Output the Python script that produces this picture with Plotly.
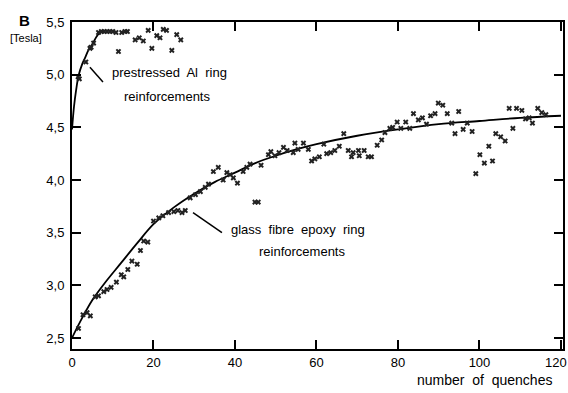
import plotly.graph_objects as go

# Prestressed Al ring reinforcements (measured points)
al_x = [1.5, 1.8, 3.4, 4.4, 4.7, 5.3, 6.5, 7.2, 7.9, 8.6, 9.3, 10.0, 10.8, 11.4, 12.2, 13.0, 13.6,
        15.5, 16.5, 17.5, 18.7, 19.6, 20.8, 21.6, 22.4, 23.2, 24.5, 25.7, 26.7]
al_y = [4.98, 4.96, 5.12, 5.25, 5.26, 5.30, 5.40, 5.41, 5.41, 5.41, 5.41, 5.41, 5.40, 5.22, 5.40, 5.41, 5.41,
        5.33, 5.35, 5.32, 5.42, 5.25, 5.37, 5.35, 5.43, 5.42, 5.23, 5.38, 5.33]

# Al fit curve
al_fit_x = [0.0, 0.5, 1.0, 1.6, 2.5, 3.2, 4.0, 4.9, 5.7, 6.6, 7.8]
al_fit_y = [4.48, 4.70, 4.85, 4.99, 5.10, 5.16, 5.23, 5.28, 5.34, 5.39, 5.41]

# Glass fibre epoxy ring reinforcements (measured points)
gf_x = [1.6, 2.7, 3.7, 4.5, 5.7, 6.5, 7.8, 8.6, 9.6, 10.9, 12.1, 12.7, 13.7, 14.7, 16.0, 16.8, 17.6, 18.6,
        20.0, 21.3, 22.3, 23.7, 25.0, 26.0, 27.0, 27.8, 29.0, 30.3, 31.5, 32.7, 33.5, 34.7, 35.9, 37.1,
        38.0, 38.8, 39.6, 40.6, 42.0, 42.9, 43.7, 44.9, 45.7, 46.4, 48.2, 48.8, 49.8, 50.8, 51.9, 52.8,
        54.3, 54.7, 55.5, 56.8, 58.0, 58.8, 59.6, 60.7, 61.8, 62.5, 63.5, 64.5, 65.6, 66.7, 67.8, 68.6,
        69.0, 70.3, 70.5, 71.7, 72.7, 73.5, 74.9, 76.0, 76.8, 78.0, 78.7, 79.8, 80.7, 81.9, 82.9, 83.8,
        85.0, 86.0, 87.0, 88.0, 89.1, 89.9, 91.0, 92.1, 93.2, 94.0, 94.9, 96.0, 97.0, 98.2, 99.1, 100.1,
        101.2, 102.3, 103.2, 104.0, 105.2, 106.3, 107.3, 108.2, 109.1, 110.4, 111.3, 112.2, 113.0, 114.3,
        115.3, 116.3]
gf_y = [2.59, 2.72, 2.74, 2.71, 2.89, 2.90, 2.94, 2.96, 2.98, 3.03, 3.10, 3.08, 3.15, 3.23, 3.20, 3.33, 3.42, 3.41,
        3.61, 3.64, 3.66, 3.69, 3.70, 3.71, 3.69, 3.71, 3.83, 3.86, 3.89, 3.93, 3.96, 4.08, 4.12, 4.00,
        4.07, 4.05, 4.02, 3.97, 4.08, 4.12, 4.15, 3.79, 3.79, 4.14, 4.24, 4.27, 4.23, 4.26, 4.31, 4.28,
        4.26, 4.35, 4.29, 4.35, 4.29, 4.18, 4.20, 4.22, 4.34, 4.25, 4.26, 4.28, 4.32, 4.44, 4.28, 4.22,
        4.26, 4.28, 4.23, 4.28, 4.22, 4.22, 4.33, 4.38, 4.45, 4.49, 4.50, 4.55, 4.49, 4.55, 4.49, 4.63,
        4.57, 4.59, 4.53, 4.61, 4.63, 4.73, 4.71, 4.63, 4.54, 4.44, 4.65, 4.48, 4.54, 4.46, 4.06, 4.24,
        4.16, 4.32, 4.18, 4.44, 4.41, 4.37, 4.68, 4.49, 4.68, 4.66, 4.58, 4.59, 4.54, 4.68,
        4.64, 4.62]

# Glass fibre fit curve
gf_fit_x = [0, 2.5, 5, 8, 12, 16, 20, 25, 30, 35, 40, 45, 50, 55, 60, 70, 80, 90, 100, 110, 120]
gf_fit_y = [2.50, 2.69, 2.86, 3.02, 3.21, 3.40, 3.58, 3.74, 3.87, 3.98, 4.07, 4.16, 4.23, 4.29, 4.34,
            4.42, 4.48, 4.53, 4.56, 4.59, 4.61]

x_ticks = [0, 20, 40, 60, 80, 100, 120]
x_tick_text = ["0", "20", "40", "60", "80", "100", "120"]
y_ticks = [2.5, 3.0, 3.5, 4.0, 4.5, 5.0, 5.5]
y_tick_text = ["2,5", "3,0", "3,5", "4,0", "4,5", "5,0", "5,5"]

FONT = "Liberation Sans"

fig = go.Figure()
fig.add_trace(go.Scatter(x=al_fit_x, y=al_fit_y, mode="lines", line=dict(color="black", width=1.8, shape="spline"),
                         showlegend=False, hoverinfo="skip"))
fig.add_trace(go.Scatter(x=gf_fit_x, y=gf_fit_y, mode="lines", line=dict(color="black", width=1.8, shape="spline"),
                         showlegend=False, hoverinfo="skip"))
fig.add_trace(go.Scatter(x=al_x, y=al_y, mode="markers",
                         marker=dict(symbol="x", size=5, color="#222"), showlegend=False))
fig.add_trace(go.Scatter(x=gf_x, y=gf_y, mode="markers",
                         marker=dict(symbol="x", size=5, color="#222"), showlegend=False))

# leader lines
fig.add_shape(type="line", x0=4.4, y0=5.07, x1=7.6, y1=4.93, line=dict(color="black", width=1.5))
fig.add_shape(type="line", x0=29.7, y0=3.69, x1=36.8, y1=3.50, line=dict(color="black", width=1.5))

tf = dict(family=FONT, size=13, color="black")
fig.add_annotation(x=24.0, y=5.02, text="prestressed  Al  ring", showarrow=False, font=tf)
fig.add_annotation(x=23.4, y=4.79, text="reinforcements", showarrow=False, font=tf)
fig.add_annotation(x=55.5, y=3.53, text="glass  fibre  epoxy  ring", showarrow=False, font=tf)
fig.add_annotation(x=56.4, y=3.32, text="reinforcements", showarrow=False, font=tf)

fig.add_annotation(xref="paper", yref="paper", x=0.841, y=-0.095, xanchor="center", yanchor="middle",
                   text="number  of  quenches", showarrow=False, font=dict(family=FONT, size=14, color="black"))
fig.add_annotation(xref="paper", yref="paper", x=-0.096, y=1.006, xanchor="center", yanchor="middle",
                   text="<b>B</b>", showarrow=False, font=dict(family=FONT, size=15, color="black"))
fig.add_annotation(xref="paper", yref="paper", x=-0.094, y=0.951, xanchor="center", yanchor="middle",
                   text="[Tesla]", showarrow=False, font=dict(family=FONT, size=11, color="black"))
# last x tick label, nudged inside the window like in the original
fig.add_annotation(xref="paper", yref="paper", x=1.012, y=-0.04, xanchor="right", yanchor="middle",
                   text=x_tick_text[-1], showarrow=False, font=dict(family=FONT, size=13, color="black"))

axis_common = dict(showgrid=False, zeroline=False, showline=True, linecolor="black", linewidth=2,
                   mirror="ticks", ticks="inside", ticklen=9, tickwidth=1.5, tickcolor="black",
                   automargin=False, tickfont=dict(family=FONT, size=13, color="black"))
fig.update_xaxes(range=[0, 120.5], tickvals=x_ticks, ticktext=x_tick_text[:-1] + [""], **axis_common)
fig.update_yaxes(range=[2.395, 5.5], tickvals=y_ticks, ticktext=y_tick_text, ticklabelstandoff=3, **axis_common)

fig.update_layout(width=568, height=393, margin=dict(l=72, r=5, t=22, b=44),
                  paper_bgcolor="white", plot_bgcolor="white")

# remove the default page margin so the 568x393 figure fills the window exactly
fig.write_html("out.html", config={"displayModeBar": False},
               post_script="document.body.style.margin='0';document.body.style.overflow='hidden';")
